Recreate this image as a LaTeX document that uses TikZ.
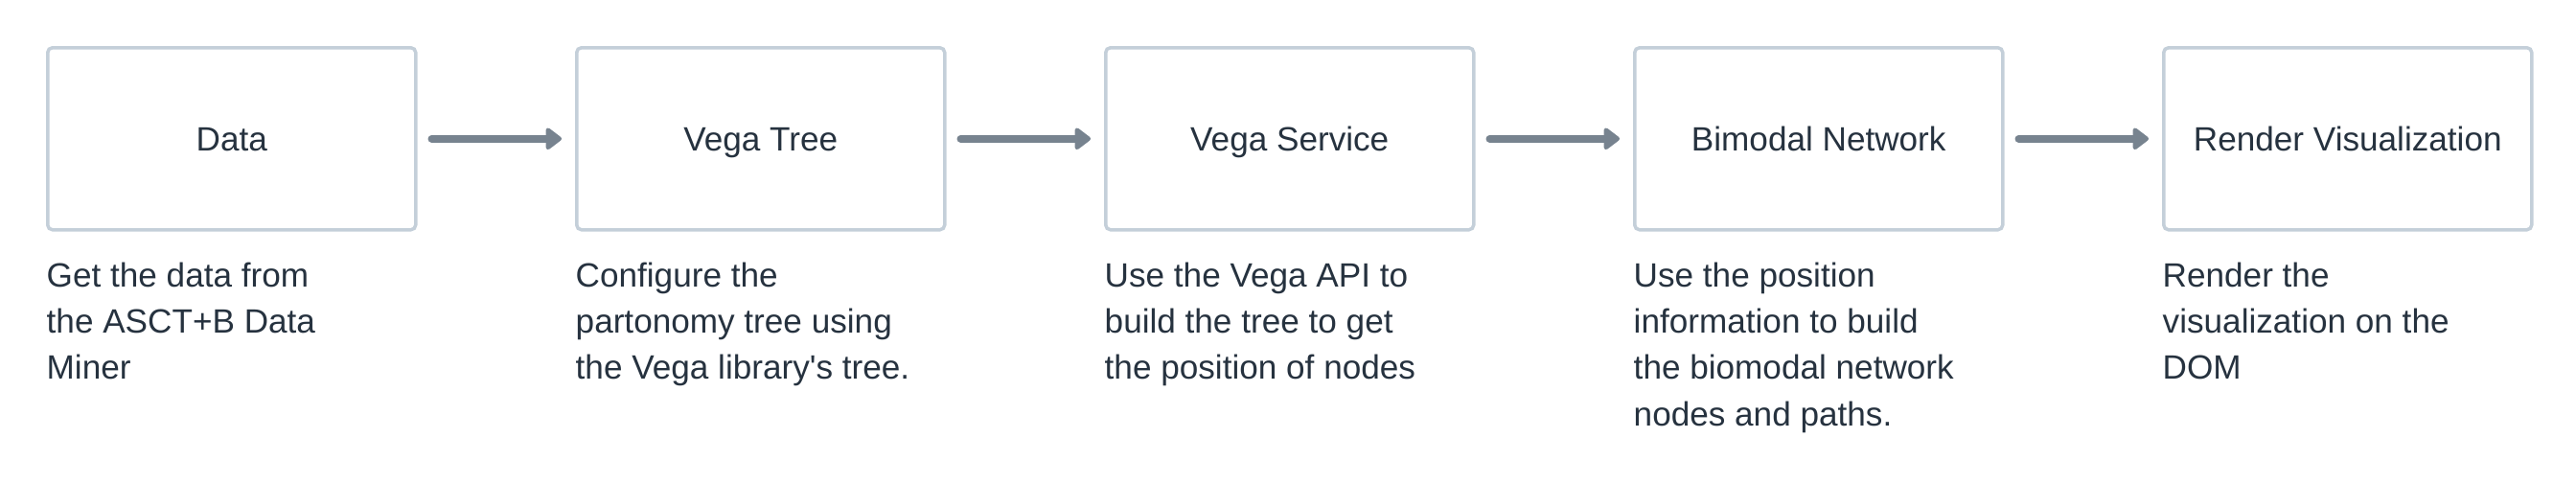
\documentclass[tikz,border=0pt]{standalone}
\usepackage{fontspec}
\setmainfont{Liberation Sans}
\usepackage{tikz}
\usepackage{xcolor}
\usetikzlibrary{arrows.meta, positioning}

\definecolor{boxline}{HTML}{C4CFD9}
\definecolor{arrowgray}{HTML}{77838F}
\definecolor{inkblue}{HTML}{26323F}

\begin{document}
\begin{tikzpicture}[
        node distance=0.32cm and 1.645cm,
        >={Triangle[length=0.18cm, width=0.26cm, round]},
        stagebox/.style={rectangle, draw=boxline, line width=0.035cm, rounded corners=0.05cm,
                minimum height=1.9cm, minimum width=3.84cm, align=center,
                text height=7.4pt, text depth=0pt,
                font=\fontsize{10pt}{12pt}\selectfont, text=inkblue, fill=white},
        desc/.style={inner sep=0pt, align=left, text=inkblue,
                font=\fontsize{10pt}{13.7pt}\selectfont},
        arrow/.style={->, line width=0.08cm, arrowgray, line cap=round,
                shorten <=0.15cm, shorten >=0.14cm}, ]

        % canvas
        \useasboundingbox (0,0) rectangle (26.88,-5.04);

        % === STAGES ===
        \node[stagebox, anchor=north west] (data) at (0.48,-0.48) {Data};
        \node[stagebox, right=of data] (vegatree) {Vega Tree};
        \node[stagebox, right=of vegatree] (vegaservice) {Vega Service};
        \node[stagebox, right=of vegaservice] (bimodal) {Bimodal Network};
        \node[stagebox, right=of bimodal] (render) {Render Visualization};

        % Connections
        \draw[arrow] (data) -- (vegatree);
        \draw[arrow] (vegatree) -- (vegaservice);
        \draw[arrow] (vegaservice) -- (bimodal);
        \draw[arrow] (bimodal) -- (render);

        % === DESCRIPTIONS ===
        \node[desc, below=of data.south west, anchor=north west] (datatxt)
            {Get the data from\\the ASCT+B Data\\Miner};
        \node[desc, below=of vegatree.south west, anchor=north west] (vegatreetxt)
            {Configure the\\partonomy tree using\\the Vega library\textquotesingle s tree.};
        \node[desc, below=of vegaservice.south west, anchor=north west] (vegaservicetxt)
            {Use the Vega API to\\build the tree to get\\the position of nodes};
        \node[desc, below=of bimodal.south west, anchor=north west] (bimodaltxt)
            {Use the position\\information to build\\the biomodal network\\nodes and paths.};
        \node[desc, below=of render.south west, anchor=north west] (rendertxt)
            {Render the\\visualization on the\\DOM};
    \end{tikzpicture}
\end{document}
